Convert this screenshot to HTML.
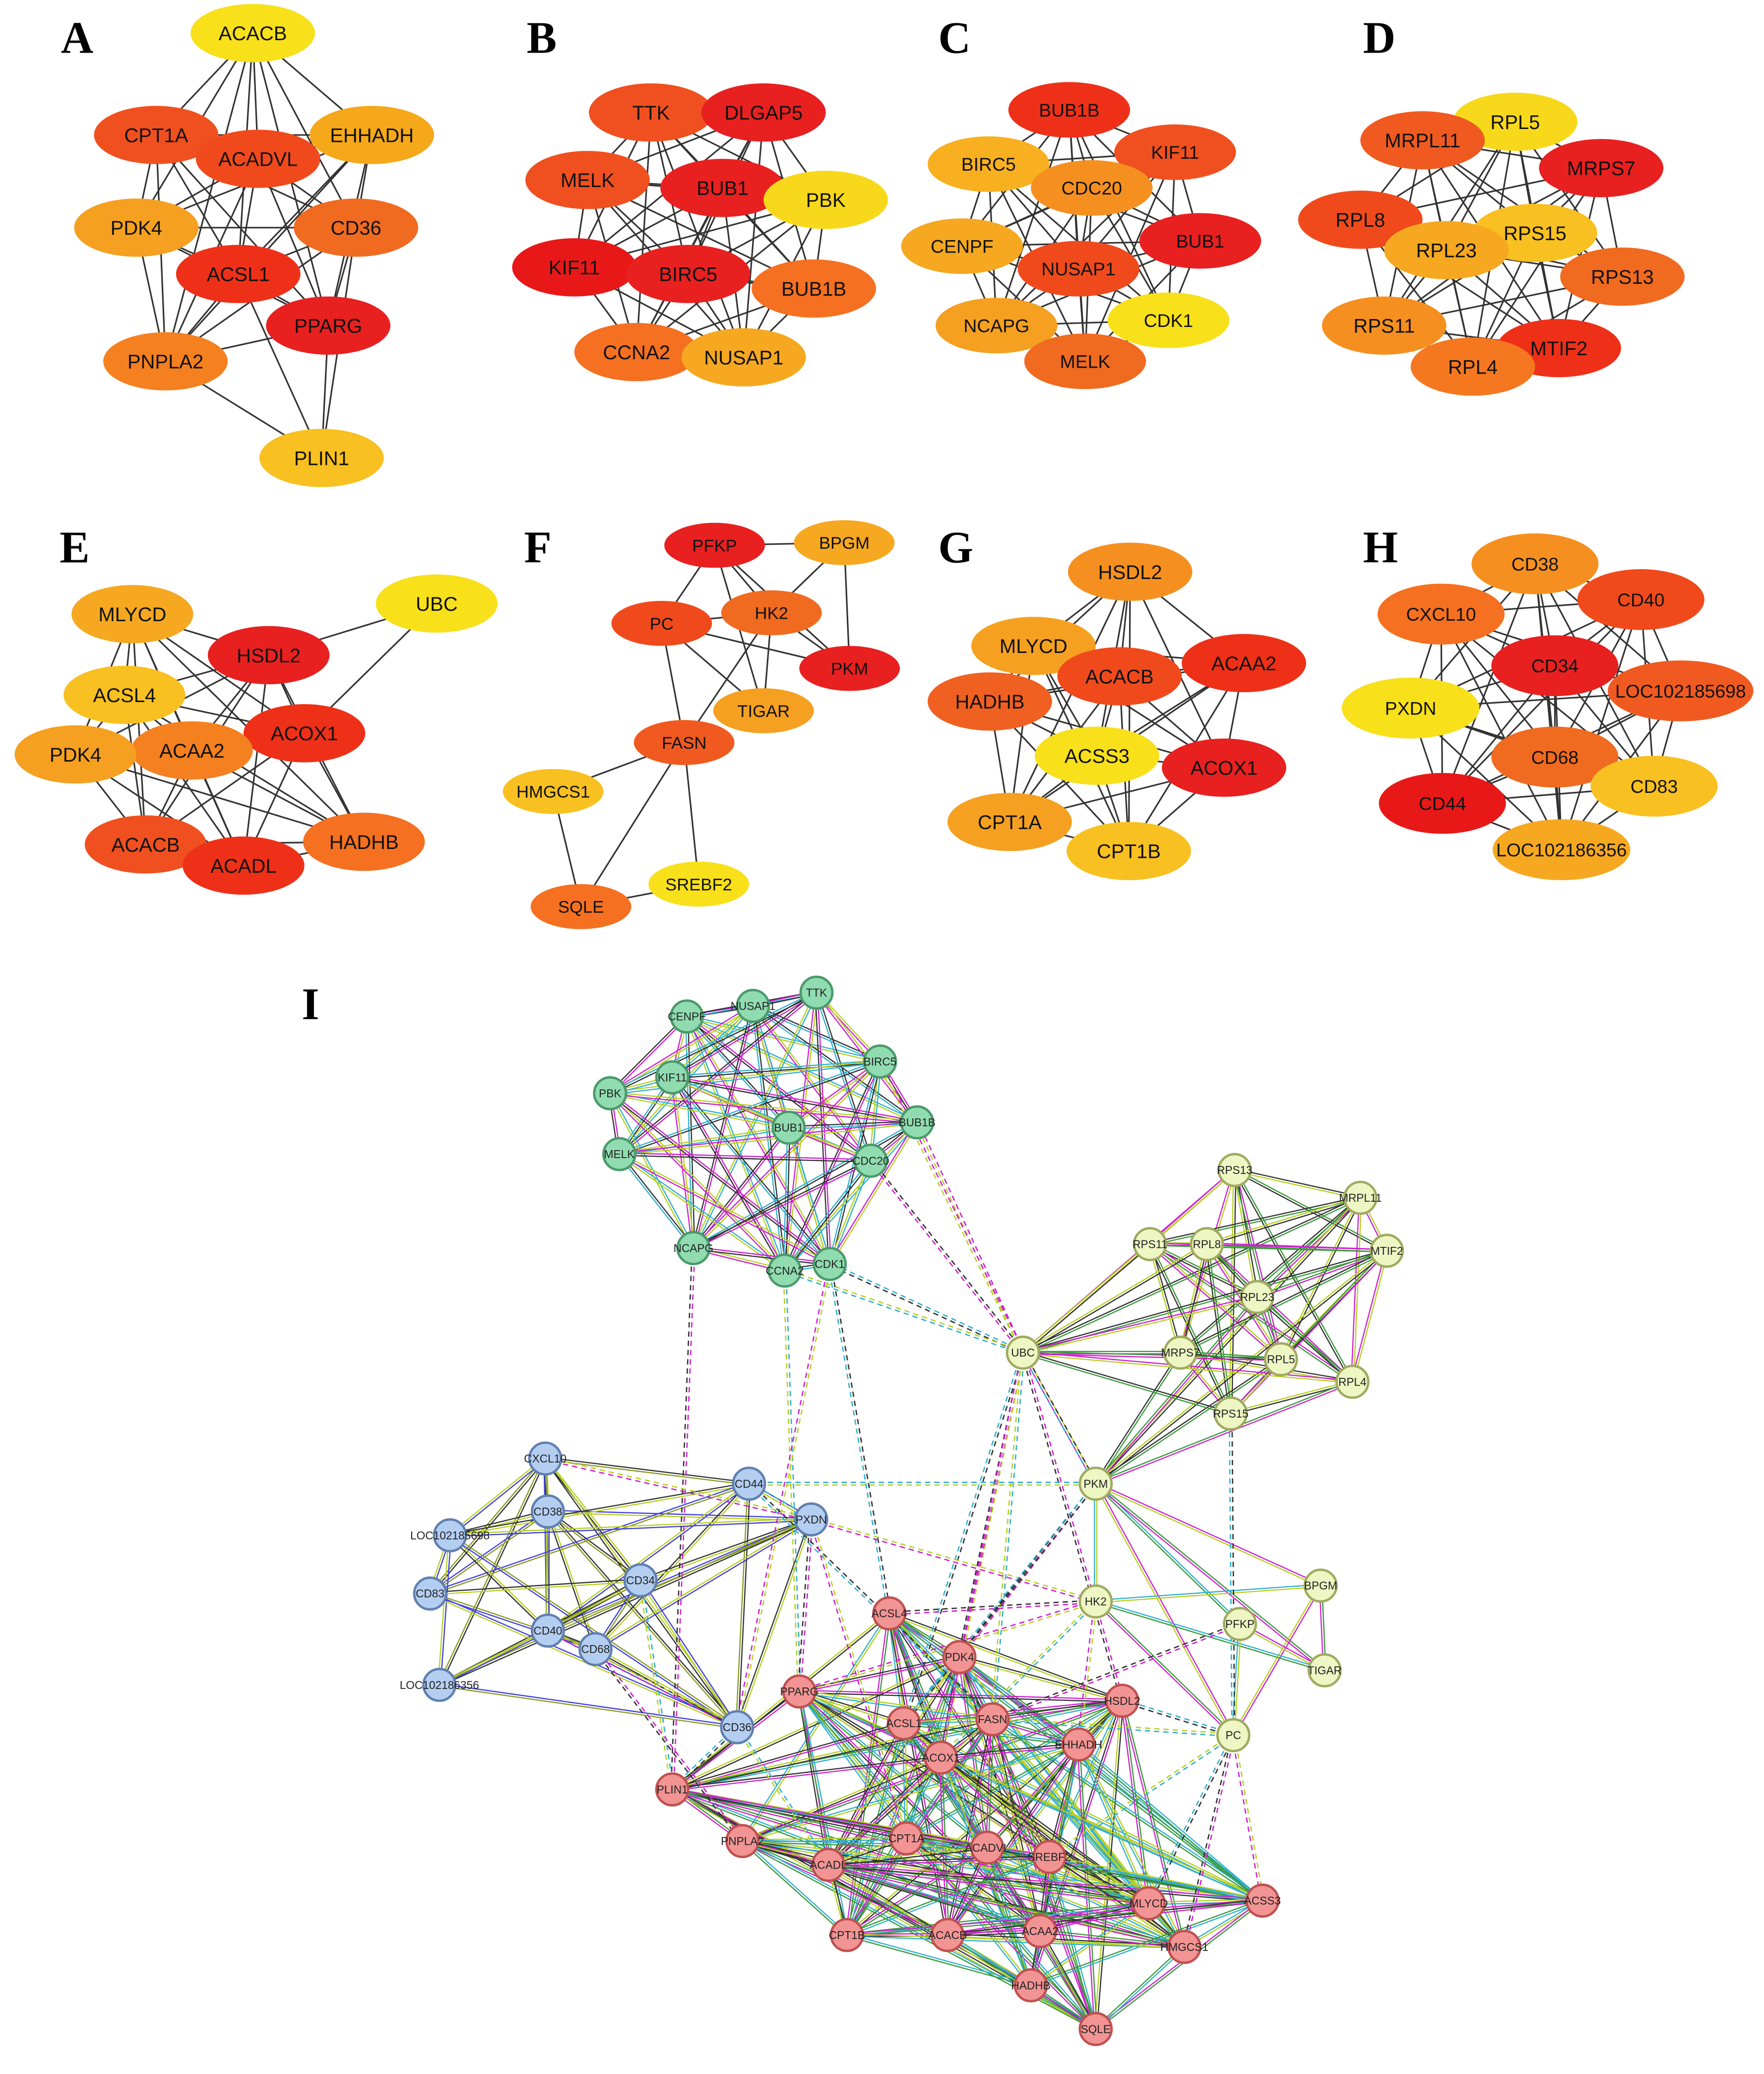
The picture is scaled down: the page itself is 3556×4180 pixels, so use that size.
<!DOCTYPE html>
<html><head><meta charset="utf-8">
<style>
html,body{margin:0;padding:0;background:#fff;}
svg{display:block;}
</style></head>
<body>
<svg id="s" xmlns="http://www.w3.org/2000/svg" width="3556" height="4180" viewBox="0 0 1333 1567">
<rect width="1333" height="1567" fill="#fff"/>
<g id="edges"></g>
<g id="nodes"></g>
<g font-family="Liberation Serif, serif" font-weight="bold" font-size="34" fill="#000">
<text x="46" y="40">A</text><text x="398" y="40">B</text><text x="709" y="40">C</text><text x="1030" y="40">D</text>
<text x="45" y="425">E</text><text x="396" y="425">F</text><text x="709" y="425">G</text><text x="1030" y="425">H</text>
<text x="228" y="770">I</text>
</g>
</svg>
<script>
var NS="http://www.w3.org/2000/svg";
var E=document.getElementById('edges'),N=document.getElementById('nodes');
function el(t,a,p){var e=document.createElementNS(NS,t);for(var k in a)e.setAttribute(k,a[k]);(p||N).appendChild(e);return e;}
function line(a,b,c,w,dash,off){
  var dx=b[1]-a[1],dy=b[2]-a[2],L=Math.sqrt(dx*dx+dy*dy)||1,ox=-dy/L*(off||0),oy=dx/L*(off||0);
  var o={x1:a[1]+ox,y1:a[2]+oy,x2:b[1]+ox,y2:b[2]+oy,stroke:c,'stroke-width':w};
  if(dash)o['stroke-dasharray']=dash;el('line',o,E);}
function panel(nodes,edges,rx,ry,fs){
  var m={};nodes.forEach(function(n){m[n[0]]=n;});
  if(edges==='all'){edges=[];for(var i=0;i<nodes.length;i++)for(var j=i+1;j<nodes.length;j++)edges.push([nodes[i][0],nodes[j][0]]);}
  edges.forEach(function(e){line(m[e[0]],m[e[1]],'#333',1.2);});
  nodes.forEach(function(n){var r=n[4]||rx;el('ellipse',{cx:n[1],cy:n[2],rx:r,ry:ry,fill:n[3]});
    var t=el('text',{x:n[1],y:n[2]+fs*0.36,'text-anchor':'middle','font-family':'Liberation Sans, sans-serif','font-size':fs,fill:'#111'});t.textContent=n[0];});
}
function except(nodes,skip,extra){var e=[];for(var i=0;i<nodes.length;i++)for(var j=i+1;j<nodes.length;j++){var a=nodes[i][0],b=nodes[j][0];if(skip.indexOf(a)<0&&skip.indexOf(b)<0)e.push([a,b]);}return e.concat(extra);}
// A
var A=[["ACACB",191,25,"#F8E01A"],["CPT1A",118,102,"#F05020"],["ACADVL",195,120,"#F04A1C"],["EHHADH",281,102,"#F5A81A"],["PDK4",103,172,"#F5A020"],["CD36",269,172,"#F06A20"],["ACSL1",180,207,"#EE3018"],["PPARG",248,246,"#E82020"],["PNPLA2",125,273,"#F58020"],["PLIN1",243,346,"#F8C020"]];
panel(A,except(A,["PLIN1"],[["PLIN1","PNPLA2"],["PLIN1","PPARG"],["PLIN1","ACSL1"],["PLIN1","CD36"]]),47,22,15);
panel([["TTK",492,85,"#F05020"],["DLGAP5",577,85,"#E82020"],["MELK",444,136,"#F05020"],["BUB1",546,142,"#E82020"],["PBK",624,151,"#F8D81A"],["KIF11",434,202,"#E81818"],["BIRC5",520,207,"#E82020"],["BUB1B",615,218,"#F57020"],["CCNA2",481,266,"#F57020"],["NUSAP1",562,270,"#F5A820"]],'all',47,22,15);
panel([["BUB1B",808,83,"#EE3018"],["KIF11",888,115,"#F05020"],["BIRC5",747,124,"#F8B020"],["CDC20",825,142,"#F59020"],["BUB1",907,182,"#E82020"],["CENPF",727,186,"#F5A820"],["NUSAP1",815,203,"#F04A1C"],["CDK1",883,242,"#F8E01A"],["NCAPG",753,246,"#F5A020"],["MELK",820,273,"#F06A20"]],'all',46,21,14);
panel([["RPL5",1145,92,"#F8D81A"],["MRPL11",1075,106,"#F05A20"],["MRPS7",1210,127,"#E82020"],["RPL8",1028,166,"#F04A1C"],["RPS15",1160,176,"#F8C020"],["RPL23",1093,189,"#F5A820"],["RPS13",1226,209,"#F06A20"],["RPS11",1046,246,"#F59020"],["MTIF2",1178,263,"#EE3018"],["RPL4",1113,277,"#F57820"]],'all',47,22,15);
var Ee=[["MLYCD",100,464,"#F5A820"],["UBC",330,456,"#F8E01A"],["HSDL2",203,495,"#E82020"],["ACSL4",94,525,"#F8C020"],["ACOX1",230,554,"#EE3018"],["ACAA2",145,567,"#F58020"],["PDK4",57,570,"#F5A020"],["ACACB",110,638,"#F05020"],["ACADL",184,654,"#EE3018"],["HADHB",275,636,"#F57020"]];
panel(Ee,except(Ee,["UBC"],[["UBC","HSDL2"],["UBC","ACOX1"]]),46,22,15);
panel([["PFKP",540,412,"#E82020"],["BPGM",638,410,"#F5A820"],["PC",500,471,"#F04A1C"],["HK2",583,463,"#F06A20"],["PKM",642,505,"#E82020"],["TIGAR",577,537,"#F5A020"],["FASN",517,561,"#F05A20"],["HMGCS1",418,598,"#F8C020"],["SREBF2",528,668,"#F8E01A"],["SQLE",439,685,"#F57020"]],
[["PFKP","BPGM"],["PFKP","PC"],["PFKP","HK2"],["PFKP","PKM"],["BPGM","HK2"],["BPGM","PKM"],["PC","HK2"],["PC","PKM"],["HK2","PKM"],["HK2","TIGAR"],["PC","TIGAR"],["PC","FASN"],["HK2","FASN"],["PFKP","TIGAR"],["FASN","HMGCS1"],["FASN","SREBF2"],["FASN","SQLE"],["HMGCS1","SQLE"],["SQLE","SREBF2"]],38,17,13);
panel([["HSDL2",854,432,"#F59020"],["MLYCD",781,488,"#F5A020"],["ACAA2",940,501,"#EE3018"],["ACACB",846,511,"#F04A1C"],["HADHB",748,530,"#F06020"],["ACSS3",829,571,"#F8E01A"],["ACOX1",925,580,"#E82020"],["CPT1A",763,621,"#F5A020"],["CPT1B",853,643,"#F8C020"]],'all',47,22,15);
panel([["CD38",1160,426,"#F59020"],["CD40",1240,453,"#F04A1C"],["CXCL10",1089,464,"#F57020"],["CD34",1175,503,"#E82020"],["LOC102185698",1270,522,"#F05A20",55],["PXDN",1066,535,"#F8E01A",52],["CD68",1175,572,"#F06A20"],["CD83",1250,594,"#F8C020"],["CD44",1090,607,"#E81818"],["LOC102186356",1180,642,"#F5A820",52]],'all',48,23,14);
// I
var G=[["CENPF",519,768],["NUSAP1",569,760],["TTK",617,750],["BIRC5",665,802],["KIF11",508,814],["PBK",461,826],["BUB1",596,852],["BUB1B",693,848],["MELK",468,872],["CDC20",658,877],["NCAPG",524,943],["CCNA2",593,960],["CDK1",627,955]];
var Y=[["RPS13",933,884],["MRPL11",1028,905],["RPS11",869,940],["RPL8",912,940],["MTIF2",1048,945],["RPL23",950,980],["MRPS7",892,1022],["RPL5",968,1027],["RPL4",1022,1044],["RPS15",930,1068]];
var Y2=[["UBC",773,1022],["PKM",828,1121],["BPGM",998,1198],["HK2",828,1210],["PFKP",937,1227],["TIGAR",1001,1262],["PC",932,1311]];
var B=[["CXCL10",412,1102],["CD38",414,1142],["CD44",566,1121],["PXDN",613,1148],["LOC102185698",340,1160],["CD34",484,1194],["CD83",325,1204],["CD40",414,1232],["CD68",450,1246],["CD36",557,1305],["LOC102186356",332,1273]];
var R=[["ACSL4",672,1219],["PDK4",725,1252],["PPARG",604,1278],["HSDL2",848,1285],["ACSL1",683,1302],["FASN",750,1299],["EHHADH",815,1318],["ACOX1",711,1328],["PLIN1",508,1352],["PNPLA2",561,1391],["CPT1A",685,1389],["ACADVL",746,1396],["SREBF2",793,1403],["ACADL",626,1409],["MLYCD",868,1438],["ACSS3",954,1436],["CPT1B",640,1462],["ACACB",716,1462],["ACAA2",786,1459],["HMGCS1",895,1471],["HADHB",779,1500],["SQLE",828,1533]];
var cols=['#b8d020','#d020d0','#333','#30b0d0','#4040e0','#3a9a3a'];
var k=0;
function dense(arr,c2,prob){for(var i=0;i<arr.length;i++)for(var j=i+1;j<arr.length;j++){k++;if(((k*37)%100)/100>prob)continue;
  line(arr[i],arr[j],c2[k%c2.length],0.9,null,-0.9);line(arr[i],arr[j],c2[(k+1)%c2.length],0.9,null,0.9);}}
dense(G,['#b8d020','#d020d0','#333','#30b0d0'],0.95);
dense(Y.concat([Y2[0],Y2[1]]),['#b8d020','#d020d0','#3a9a3a','#333'],0.85);
dense(Y2.slice(1),['#3a9a3a','#d020d0','#b8d020','#30b0d0'],0.8);
dense(B,['#b8d020','#333','#8a9a20','#4040e0'],0.75);
dense(R,['#3a9a3a','#d020d0','#333','#b8d020','#30b0d0'],0.8);
function find(n,arr){for(var i=0;i<arr.length;i++)if(arr[i][0]==n)return arr[i];}
var ALL=G.concat(Y,Y2,B,R);
function f(n){for(var i=0;i<ALL.length;i++)if(ALL[i][0]==n)return ALL[i];}
var dashes=[["UBC","BUB1B"],["UBC","CDC20"],["UBC","CDK1"],["UBC","CCNA2"],["UBC","BIRC5"],["UBC","PDK4"],["UBC","ACSL1"],["UBC","FASN"],["UBC","ACOX1"],["UBC","HSDL2"],["UBC","PKM"],["CCNA2","PPARG"],["CDK1","CD36"],["NCAPG","PLIN1"],["CDK1","ACSL4"],["CD44","PKM"],["PXDN","HK2"],["PXDN","PPARG"],["CD44","FASN"],["CD34","PLIN1"],["CD40","CD36"],["CD68","PNPLA2"],["CD36","PLIN1"],["CD36","ACADL"],["PXDN","CPT1A"],["PKM","PDK4"],["PKM","ACSL1"],["HK2","ACOX1"],["HK2","EHHADH"],["HK2","ACSL4"],["PC","HSDL2"],["PC","FASN"],["PC","ACSS3"],["PC","HMGCS1"],["PC","MLYCD"],["PC","SREBF2"],["HK2","PPARG"],["PFKP","FASN"],["RPS15","PC"],["CD44","PXDN"],["CXCL10","PXDN"]];
dashes.forEach(function(d,i){var a=f(d[0]),b=f(d[1]);line(a,b,cols[i%4],1,'4,3',-1);line(a,b,cols[(i+1)%4],1,'4,3',1);});
function circ(arr,fill,st){arr.forEach(function(n){el('circle',{cx:n[1],cy:n[2],r:12,fill:fill,stroke:st,'stroke-width':1.8});
  var t=el('text',{x:n[1],y:n[2]+3,'text-anchor':'middle','font-family':'Liberation Sans, sans-serif','font-size':8.5,fill:'#222'});t.textContent=n[0];});}
circ(G,'#90dcb0','#4a9a6a');circ(Y,'#eef6c4','#a0aa60');circ(Y2,'#eef6c4','#a0aa60');circ(B,'#b4cef2','#6080b0');circ(R,'#f29494','#c05050');
</script>
</body></html>
